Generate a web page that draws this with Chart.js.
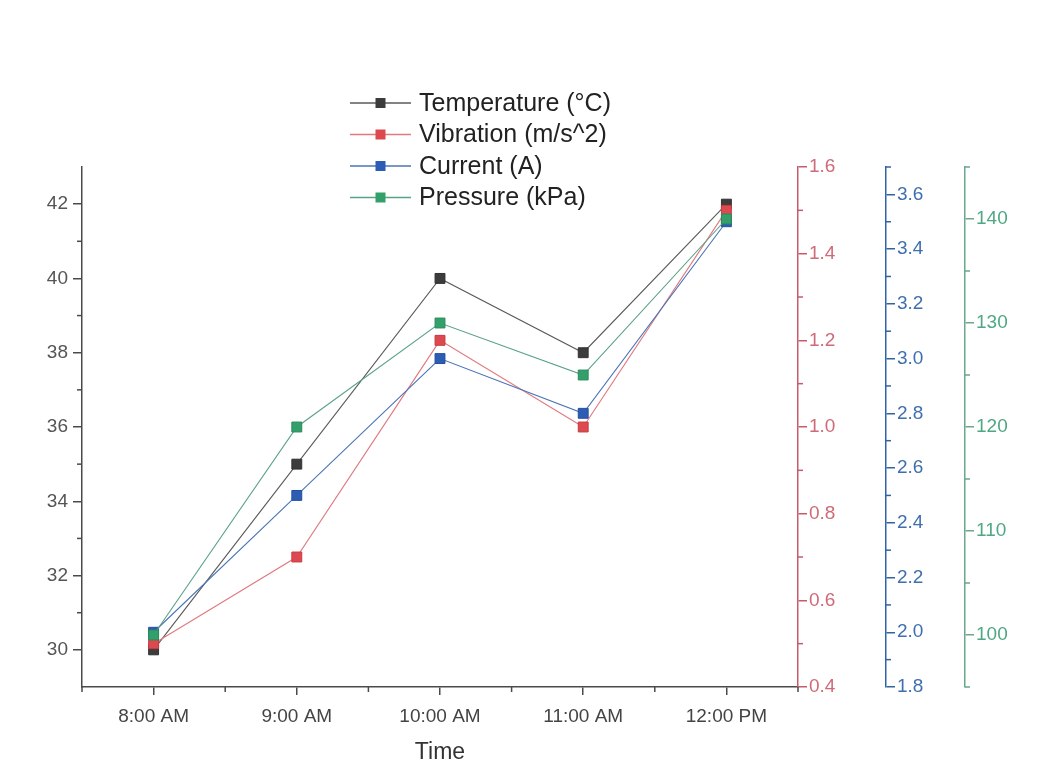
<!DOCTYPE html>
<html>
<head>
<meta charset="utf-8">
<script src="https://cdn.jsdelivr.net/npm/chart.js@4"></script>
<style>
  body { margin: 0; background: #fff; }
  #wrap { width: 1052px; height: 763px; position: relative; }
</style>
</head>
<body>
<div id="wrap"><canvas id="myChart"></canvas></div>
<script>
// data
const times = ['8:00 AM', '9:00 AM', '10:00 AM', '11:00 AM', '12:00 PM'];
const temperature = [30, 35, 40, 38, 42];
const vibration = [0.5, 0.7, 1.2, 1.0, 1.5];
const current = [2.0, 2.5, 3.0, 2.8, 3.5];
const pressure = [100, 120, 130, 125, 140];

// tick values
const tempTicks = [30, 32, 34, 36, 38, 40, 42];
const tempMinor = [31, 33, 35, 37, 39, 41];
const vibTicks = [0.4, 0.6, 0.8, 1.0, 1.2, 1.4, 1.6];
const vibMinor = [0.5, 0.7, 0.9, 1.1, 1.3, 1.5];
const curTicks = [1.8, 2.0, 2.2, 2.4, 2.6, 2.8, 3.0, 3.2, 3.4, 3.6];
const curMinor = [1.9, 2.1, 2.3, 2.5, 2.7, 2.9, 3.1, 3.3, 3.5, 3.7];
const presTicks = [100, 110, 120, 130, 140];
const presMinor = [95, 105, 115, 125, 135, 145];

const FONT = '"Liberation Sans", Arial, sans-serif';
const gray = '#4a4a4a';
const red = '#c95a6a';
const blue = '#2f65a3';
const green = '#6aa88a';

// Origin style minor ticks
const minorTicks = {
  id: 'minorTicks',
  afterDraw(chart) {
    const ctx = chart.ctx;
    const s = chart.scales;
    ctx.save();
    ctx.lineWidth = 1.5;
    function yMinor(scale, vals, color, leftSide) {
      ctx.strokeStyle = color;
      const x = leftSide ? scale.right : scale.left;
      vals.forEach((v) => {
        const y = scale.getPixelForValue(v);
        ctx.beginPath();
        ctx.moveTo(x, y);
        ctx.lineTo(leftSide ? x - 5 : x + 5, y);
        ctx.stroke();
      });
    }
    yMinor(s.yT, tempMinor, gray, true);
    yMinor(s.yV, vibMinor, red, false);
    yMinor(s.yC, curMinor, blue, false);
    yMinor(s.yP, presMinor, green, false);
    // x minor ticks between categories
    ctx.strokeStyle = gray;
    for (let i = -1; i < times.length; i++) {
      const x = s.x.getPixelForValue(i + 0.5);
      ctx.beginPath();
      ctx.moveTo(x, s.x.top);
      ctx.lineTo(x, s.x.top + 5);
      ctx.stroke();
    }
    ctx.restore();
  }
};

// legend: line + square marker, stacked
const lineLegend = {
  id: 'lineLegend',
  afterDraw(chart) {
    const ctx = chart.ctx;
    ctx.save();
    ctx.font = '25px ' + FONT;
    ctx.textBaseline = 'middle';
    chart.data.datasets.forEach((ds, i) => {
      const y = 103 + i * 31.5;
      ctx.strokeStyle = ds.borderColor;
      ctx.lineWidth = 1.3;
      ctx.beginPath();
      ctx.moveTo(350, y);
      ctx.lineTo(411, y);
      ctx.stroke();
      ctx.fillStyle = ds.pointBackgroundColor;
      ctx.fillRect(375.5, y - 5, 10, 10);
      ctx.fillStyle = '#222';
      ctx.fillText(ds.label, 419, y + 1);
    });
    ctx.restore();
  }
};

function yAxis(position, min, max, ticks, color, labelColor, width, weight, digits) {
  return {
    type: 'linear',
    position: position,
    weight: weight,
    min: min,
    max: max,
    afterBuildTicks: (scale) => { scale.ticks = ticks.map((v) => ({ value: v })); },
    afterFit: (scale) => { scale.width = width; },
    border: { color: color, width: 1.5 },
    grid: { drawOnChartArea: false, drawTicks: true, tickLength: 9, color: color, lineWidth: 1.5 },
    ticks: {
      color: labelColor,
      padding: position === 'left' ? 5 : 2,
      font: { family: FONT, size: 19 },
      callback: (v) => digits ? Number(v).toFixed(digits) : v
    }
  };
}

const ctx = document.getElementById('myChart');

new Chart(ctx, {
  type: 'line',
  data: {
    labels: times,
    datasets: [
      {
        label: 'Temperature (°C)',
        data: temperature,
        yAxisID: 'yT',
        borderColor: '#5a5a5a',
        pointBackgroundColor: '#3c3c3c',
        pointBorderColor: '#333',
        order: 3
      },
      {
        label: 'Vibration (m/s^2)',
        data: vibration,
        yAxisID: 'yV',
        borderColor: '#e07a7f',
        pointBackgroundColor: '#dc4a50',
        pointBorderColor: '#c83a40',
        order: 2
      },
      {
        label: 'Current (A)',
        data: current,
        yAxisID: 'yC',
        borderColor: '#4a74b8',
        pointBackgroundColor: '#2c5cb4',
        pointBorderColor: '#244f9c',
        order: 1
      },
      {
        label: 'Pressure (kPa)',
        data: pressure,
        yAxisID: 'yP',
        borderColor: '#5aa384',
        pointBackgroundColor: '#33a06c',
        pointBorderColor: '#2a8a5c',
        order: 0
      }
    ]
  },
  options: {
    responsive: true,
    maintainAspectRatio: false,
    animation: false,
    layout: { padding: { top: 167, right: 0, left: 0, bottom: 0 } },
    elements: {
      line: { borderWidth: 1.1, tension: 0 },
      point: { pointStyle: 'rect', radius: 7, borderWidth: 1 }
    },
    plugins: {
      legend: { display: false },
      tooltip: { enabled: false }
    },
    scales: {
      x: {
        type: 'category',
        offset: true,
        afterFit: (scale) => { scale.height = 76; },
        border: { color: gray, width: 1.5 },
        grid: { drawOnChartArea: false, drawTicks: true, tickLength: 8, color: gray, lineWidth: 1.5 },
        ticks: { color: '#444', padding: 10, font: { family: FONT, size: 19 } },
        title: {
          display: true,
          text: 'Time',
          color: '#333',
          padding: { top: 0, bottom: -3 },
          font: { family: FONT, size: 23 }
        }
      },
      yT: yAxis('left', 29, 43, tempTicks, gray, '#555', 82, 0, 0),
      yV: yAxis('right', 0.4, 1.6, vibTicks, red, '#d06a78', 88, 1, 1),
      yC: yAxis('right', 1.8, 3.7, curTicks, blue, '#3f6fae', 79, 2, 1),
      yP: yAxis('right', 95, 145, presTicks, green, '#4fa883', 87, 3, 0)
    }
  },
  plugins: [minorTicks, lineLegend]
});
</script>
</body>
</html>
